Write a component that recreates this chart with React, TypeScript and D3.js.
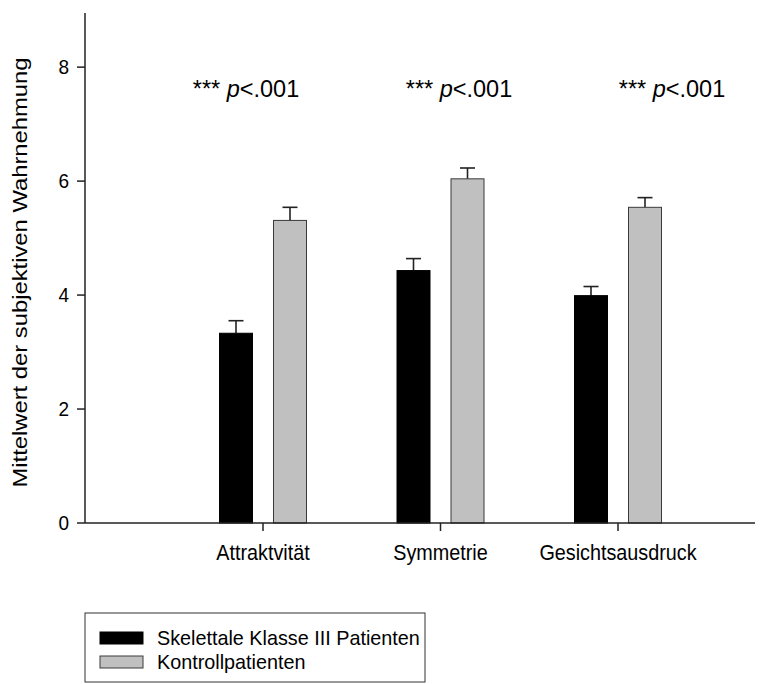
import React from "react";
import * as d3 from "d3";

const categories = ["Attraktvität", "Symmetrie", "Gesichtsausdruck"];
const seriesNames = ["Skelettale Klasse III Patienten", "Kontrollpatienten"];
const patientMeans = [3.33, 4.43, 3.99];
const patientErr = [0.22, 0.21, 0.16];
const controlMeans = [5.31, 6.04, 5.54];
const controlErr = [0.23, 0.19, 0.17];
const yTicks = [0, 2, 4, 6, 8];
const annotations = ["p<.001", "p<.001", "p<.001"];

const W = 783;
const H = 684;
const FONT = "'Liberation Sans', Arial, sans-serif";
const SQ = 0.82;

export default function App() {
  const y = d3.scaleLinear().domain([0, 8.95]).range([523, 13]);
  const x = d3.scalePoint<string>().domain(categories).range([263, 618]);
  const axisLeft = 85;
  const axisRight = 755;
  const barW = 33;
  const off = 27;
  const annX = d3.scalePoint<string>().domain(categories).range([246, 672]);

  const series = [
    { means: patientMeans, errs: patientErr, fill: "#000000", stroke: "#000000", dx: -off },
    { means: controlMeans, errs: controlErr, fill: "#c0c0c0", stroke: "#3a3a3a", dx: off },
  ];

  return (
    <svg width={W} height={H} style={{ position: "absolute", left: 0, top: 0, background: "#fff" }}>
      <rect x={0} y={0} width={W} height={H} fill="#fff" />
      {/* bars */}
      {series.map((s, si) =>
        categories.map((c, i) => {
          const cx = (x(c) as number) + s.dx;
          const top = y(s.means[i]);
          const errTop = y(s.means[i] + s.errs[i]);
          return (
            <g key={`${si}-${i}`}>
              <line x1={cx} x2={cx} y1={top} y2={errTop} stroke="#222" strokeWidth={1.6} />
              <line x1={cx - 7.5} x2={cx + 7.5} y1={errTop} y2={errTop} stroke="#222" strokeWidth={1.6} />
              <rect
                x={cx - barW / 2}
                y={top}
                width={barW}
                height={y(0) - top}
                fill={s.fill}
                stroke={s.stroke}
                strokeWidth={1}
              />
            </g>
          );
        })
      )}
      {/* y axis */}
      <line x1={axisLeft} x2={axisLeft} y1={y(0)} y2={y(8.95)} stroke="#222" strokeWidth={1.5} />
      {yTicks.map((t) => (
        <g key={t}>
          <line x1={axisLeft - 8} x2={axisLeft} y1={y(t)} y2={y(t)} stroke="#222" strokeWidth={1.5} />
          <text
            transform={`translate(${axisLeft - 16},${y(t) + 7}) scale(0.95,1)`}
            textAnchor="end"
            fontFamily={FONT}
            fontSize={20}
            fill="#000"
          >
            {t}
          </text>
        </g>
      ))}
      {/* x axis */}
      <line x1={axisLeft} x2={axisRight} y1={y(0)} y2={y(0)} stroke="#222" strokeWidth={1.5} />
      {categories.map((c) => (
        <g key={c}>
          <line x1={x(c)} x2={x(c)} y1={y(0)} y2={y(0) + 8} stroke="#222" strokeWidth={1.5} />
          <text
            transform={`translate(${x(c)},${560}) scale(0.9,1)`}
            textAnchor="middle"
            fontFamily={FONT}
            fontSize={22}
            fill="#000"
          >
            {c}
          </text>
        </g>
      ))}
      {/* y axis title */}
      <text
        transform={`translate(${27},${(488 + 57) / 2}) scale(${SQ},1) rotate(-90)`}
        textAnchor="middle"
        fontFamily={FONT}
        fontSize={23.8}
        fill="#000"
      >
        Mittelwert der subjektiven Wahrnehmung
      </text>
      {/* annotations */}
      {categories.map((c, i) => (
        <text
          key={`a-${c}`}
          x={annX(c)}
          y={97}
          textAnchor="middle"
          fontFamily={FONT}
          fontSize={23.5}
          fill="#000"
        >
          <tspan>{"***\u00a0"}</tspan>
          <tspan fontStyle="italic">{annotations[i].slice(0, 1)}</tspan>
          <tspan>{annotations[i].slice(1)}</tspan>
        </text>
      ))}
      {/* legend */}
      <rect x={85} y={613} width={340} height={69} fill="#fff" stroke="#333" strokeWidth={1} />
      {seriesNames.map((n, i) => (
        <g key={n}>
          <rect
            x={100}
            y={632 + i * 24}
            width={43}
            height={12}
            fill={series[i].fill}
            stroke={series[i].stroke}
            strokeWidth={1}
          />
          <text x={157} y={645 + i * 24} fontFamily={FONT} fontSize={19.8} fill="#000">
            {n}
          </text>
        </g>
      ))}
    </svg>
  );
}
